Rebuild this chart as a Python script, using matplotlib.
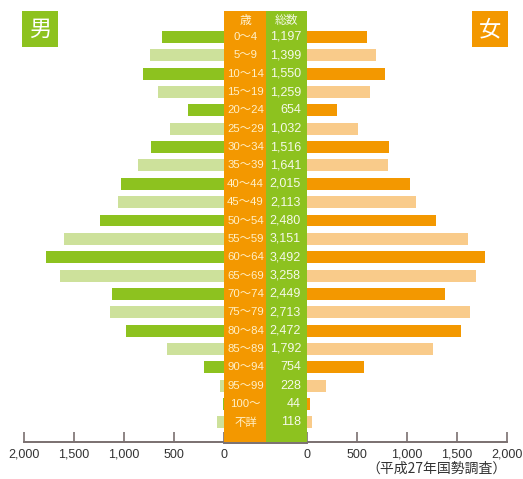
import numpy as np
import matplotlib.pyplot as plt
from matplotlib.patches import Rectangle

plt.rcParams['font.family'] = ['Noto Sans CJK JP', 'DejaVu Sans']
num_font = ['Liberation Sans', 'Noto Sans CJK JP']

ages = ['0～4', '5～9', '10～14', '15～19', '20～24', '25～29', '30～34',
        '35～39', '40～44', '45～49', '50～54', '55～59', '60～64', '65～69',
        '70～74', '75～79', '80～84', '85～89', '90～94', '95～99', '100～', '不詳']
totals = ['1,197', '1,399', '1,550', '1,259', '654', '1,032', '1,516',
          '1,641', '2,015', '2,113', '2,480', '3,151', '3,492', '3,258',
          '2,449', '2,713', '2,472', '1,792', '754', '228', '44', '118']
male = [620, 740, 810, 660, 360, 540, 730, 860, 1030, 1060, 1240, 1600,
        1780, 1640, 1120, 1140, 980, 570, 200, 40, 10, 70]
female = [600, 690, 780, 630, 300, 510, 820, 810, 1030, 1090, 1290, 1610,
          1780, 1690, 1380, 1630, 1540, 1260, 570, 190, 30, 50]
ticks = [0, 500, 1000, 1500, 2000]
tick_labels = ['0', '500', '1,000', '1,500', '2,000']

green = '#8dc21f'
green_l = '#cde19b'
orange = '#f39800'
orange_l = '#f9cb8a'
axis_col = '#7a7070'

W, H = 523, 479
fig = plt.figure(figsize=(W / 100, H / 100), dpi=100)

def pax(x0, x1, y0=11, y1=442):
    return fig.add_axes([x0 / W, 1 - y1 / H, (x1 - x0) / W, (y1 - y0) / H])

y = np.arange(len(ages))
ylim = ((442 - 37) / 18.35, (11 - 37) / 18.35)
bh = 0.65

ax_l = pax(24, 224)
ax_r = pax(307, 507)
ax_m = pax(224, 307)

for i in range(len(ages)):
    ax_l.barh(i, male[i], height=bh, color=green if i % 2 == 0 else green_l, lw=0)
    ax_r.barh(i, female[i], height=bh, color=orange if i % 2 == 0 else orange_l, lw=0)

for ax in (ax_l, ax_r):
    ax.set_ylim(*ylim)
    ax.set_yticks([])
    for s in ('top', 'left', 'right'):
        ax.spines[s].set_visible(False)
    ax.spines['bottom'].set_color(axis_col)
    ax.spines['bottom'].set_linewidth(1.4)
    ax.set_xticks(ticks)
    ax.set_xticklabels(tick_labels, fontsize=9, color='#333333', family=num_font)
    ax.tick_params(axis='x', direction='in', length=7, width=1.2,
                   color=axis_col, pad=5)
    ax.patch.set_visible(False)

ax_l.set_xlim(2000, 0)
ax_r.set_xlim(0, 2000)

# middle column
ax_m.set_xlim(0, 83)
ax_m.set_ylim(*ylim)
ax_m.axvspan(0, 42, color=orange, lw=0)
ax_m.axvspan(42, 83, color=green, lw=0)
ax_m.axis('off')
ax_m.text(21, -0.9, '歳', ha='center', va='center', fontsize=8.5, color='#fff4d6')
ax_m.text(62.5, -0.9, '総数', ha='center', va='center', fontsize=8.5, color='#f4f8e6')
for i in range(len(ages)):
    ax_m.text(21.5, i, ages[i], ha='center', va='center', fontsize=8.2,
              color='#fff0c8', family=num_font)
    ax_m.text(77, i, totals[i], ha='right', va='center', fontsize=9,
              color='#f6f9ea', family=num_font)

# axis line under the middle column
fig.add_artist(plt.Line2D([224 / W, 307 / W], [1 - 442.5 / H, 1 - 442.5 / H],
                          color=axis_col, lw=1.4))

# 男 / 女 boxes
for x0, fc, ch in ((22, green, '男'), (472, orange, '女')):
    fig.add_artist(Rectangle((x0 / W, 1 - 47 / H), 36 / W, 36 / H,
                             transform=fig.transFigure, fc=fc, ec='none'))
    fig.text((x0 + 18) / W, 1 - 29.5 / H, ch, ha='center', va='center',
             fontsize=16, color='white')

fig.text(507 / W, 1 - 469 / H, '（平成27年国勢調査）', ha='right', va='center',
         fontsize=10, color='#333333')

fig.savefig('out.png', dpi=100)
